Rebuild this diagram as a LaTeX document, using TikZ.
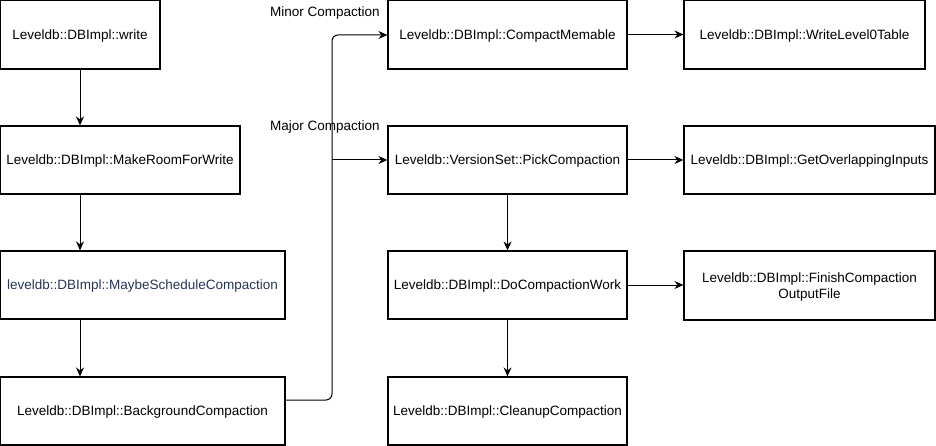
\documentclass[tikz,border=0pt]{standalone}
\usepackage{fontspec}
\setmainfont{Liberation Sans}
\usetikzlibrary{arrows.meta}
\definecolor{navytext}{HTML}{263657}
\begin{document}
\begin{tikzpicture}[x=1pt,y=-1pt,
  box/.style={draw,line width=1.2pt,minimum height=0pt,inner sep=0pt,font=\fontsize{13.5}{15.5}\selectfont,align=center,text depth=0pt},
  lbl/.style={inner sep=0pt,font=\fontsize{13.5}{15.5}\selectfont,anchor=west},
  arr/.style={line width=1pt,-{Stealth[length=9pt,width=8pt,inset=3pt]}}]
\useasboundingbox (0,0) rectangle (936,446);
\path[fill=white] (0,0) rectangle (936,446);
% left column
\node[box,minimum width=160pt,minimum height=69pt] (w) at (80,34.5) {Leveldb::DBImpl::write};
\node[box,minimum width=240pt,minimum height=68pt] (mr) at (120,160) {Leveldb::DBImpl::MakeRoomForWrite};
\node[box,minimum width=285pt,minimum height=68pt,text=navytext] (ms) at (142.5,285) {leveldb::DBImpl::MaybeScheduleCompaction};
\node[box,minimum width=285pt,minimum height=68pt] (bg) at (142.5,411) {Leveldb::DBImpl::BackgroundCompaction};
% middle column
\node[box,minimum width=239pt,minimum height=69pt] (cm) at (507.5,34.5) {Leveldb::DBImpl::CompactMemable};
\node[box,minimum width=239pt,minimum height=68pt] (pc) at (507.5,160) {Leveldb::VersionSet::PickCompaction};
\node[box,minimum width=239pt,minimum height=68pt] (dc) at (507.5,285) {Leveldb::DBImpl::DoCompactionWork};
\node[box,minimum width=239pt,minimum height=68pt] (cc) at (507.5,411) {Leveldb::DBImpl::CleanupCompaction};
% right column
\node[box,minimum width=241pt,minimum height=69pt] (wl) at (804.5,34.5) {Leveldb::DBImpl::WriteLevel0Table};
\node[box,minimum width=251pt,minimum height=68pt] (go) at (809.5,160) {Leveldb::DBImpl::GetOverlappingInputs};
\node[box,minimum width=251pt,minimum height=69pt] (fc) at (809.5,285.5) {Leveldb::DBImpl::FinishCompaction\\OutputFile};
% labels
\node[lbl] (minor) at (270,13) {Minor Compaction};
\node[lbl] (major) at (270,127) {Major Compaction};
% connectors
\draw[arr] (w.south -| 80,0) -- (mr.north -| 80,0);
\draw[arr] (mr.south -| 80,0) -- (ms.north -| 80,0);
\draw[arr] (ms.south -| 80,0) -- (bg.north -| 80,0);
\coordinate (bx) at (332,160);
\draw[arr,rounded corners=6pt] (bg.east |- 0,400) -- (332,400) -- (332,35) -- (cm.west |- 0,35);
\draw[arr] (bx) -- (pc.west);
\draw[arr] (cm.east) -- (wl.west);
\draw[arr] (pc.east) -- (go.west);
\draw[arr] (dc.east) -- (fc.west |- dc.east);
\draw[arr] (pc.south) -- (dc.north);
\draw[arr] (dc.south) -- (cc.north);
\end{tikzpicture}
\end{document}
